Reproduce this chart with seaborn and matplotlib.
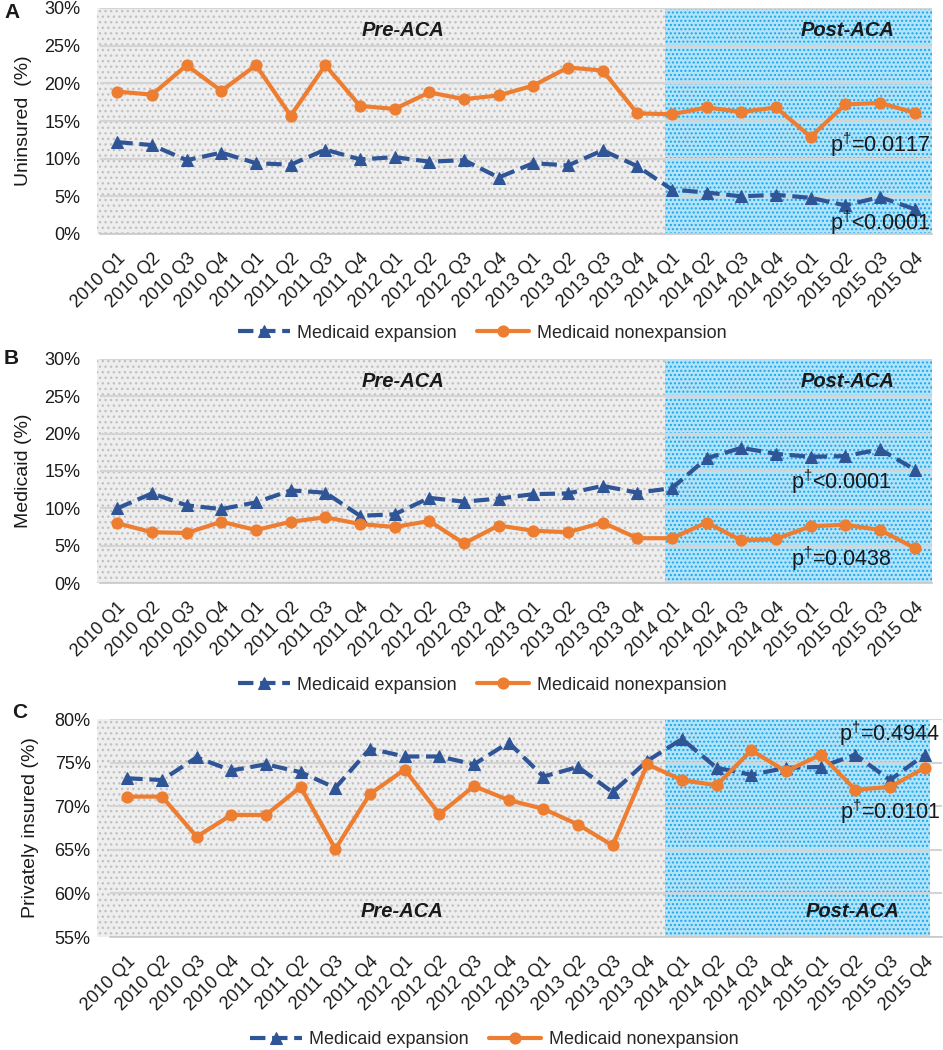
import numpy as np
import pandas as pd
import matplotlib
matplotlib.use("Agg")
import matplotlib.pyplot as plt
import matplotlib.transforms as mtrans
from matplotlib.ticker import FuncFormatter
import seaborn as sns

# ---------------- data ----------------
quarters = [f"{y} Q{q}" for y in range(2010, 2016) for q in range(1, 5)]

uninsured_expansion = [12.2, 11.8, 9.8, 10.8, 9.4, 9.2, 11.2, 9.9, 10.2, 9.6, 9.8, 7.5,
                       9.4, 9.1, 11.1, 9.0, 5.9, 5.5, 5.0, 5.2, 4.8, 3.8, 4.9, 3.3]
uninsured_nonexpansion = [18.9, 18.5, 22.4, 19.0, 22.4, 15.7, 22.4, 17.0, 16.6, 18.8, 17.9, 18.4,
                          19.7, 22.1, 21.7, 16.0, 15.9, 16.8, 16.2, 16.8, 12.9, 17.2, 17.4, 16.1]

medicaid_expansion = [10.0, 12.0, 10.4, 9.9, 10.8, 12.4, 12.1, 9.0, 9.2, 11.4, 10.9, 11.3,
                      11.9, 12.0, 13.0, 12.1, 12.7, 16.7, 18.1, 17.3, 16.9, 17.0, 17.9, 15.2]
medicaid_nonexpansion = [8.0, 6.8, 6.7, 8.2, 7.1, 8.2, 8.8, 7.9, 7.5, 8.3, 5.3, 7.7,
                         7.0, 6.8, 8.1, 6.0, 6.0, 8.1, 5.7, 5.9, 7.6, 7.8, 7.1, 4.7]

private_expansion = [73.2, 73.0, 75.6, 74.1, 74.8, 73.9, 72.1, 76.6, 75.7, 75.7, 74.8, 77.3,
                     73.4, 74.5, 71.6, 75.2, 77.7, 74.4, 73.6, 74.4, 74.5, 75.9, 73.0, 75.9]
private_nonexpansion = [71.1, 71.1, 66.5, 69.0, 69.0, 72.2, 65.1, 71.4, 74.2, 69.1, 72.3, 70.7,
                        69.7, 67.9, 65.5, 74.8, 73.0, 72.4, 76.4, 74.0, 75.9, 71.9, 72.2, 74.4]

series_labels = ["Medicaid expansion", "Medicaid nonexpansion"]
panel_letters = ["A", "B", "C"]
ylabels = ["Uninsured  (%)", "Medicaid (%)", "Privately insured (%)"]
yticks_list = [[0, 5, 10, 15, 20, 25, 30], [0, 5, 10, 15, 20, 25, 30], [55, 60, 65, 70, 75, 80]]
pvals = [("p$^{\\dagger}$=0.0117", "p$^{\\dagger}$<0.0001"),
         ("p$^{\\dagger}$<0.0001", "p$^{\\dagger}$=0.0438"),
         ("p$^{\\dagger}$=0.4944", "p$^{\\dagger}$=0.0101")]

# ---------------- style ----------------
sns.set_style("white")
plt.rcParams["font.family"] = ["Liberation Sans", "DejaVu Sans"]
plt.rcParams["mathtext.fontset"] = "custom"
plt.rcParams["mathtext.rm"] = "Liberation Sans"
plt.rcParams["hatch.linewidth"] = 1.0

BLUE = "#2f5597"
ORANGE = "#ed7d31"
GRID = "#d4d4d4"
TXT = "#1a1a1a"

W, H = 943, 1050
fig = plt.figure(figsize=(W / 100, H / 100), dpi=100)


def rect(left, right, top, bottom):
    return [left / W, 1 - bottom / H, (right - left) / W, (bottom - top) / H]


panels = [
    dict(r=rect(100, 932, 8, 234), exp=uninsured_expansion, non=uninsured_nonexpansion,
         pre=(-0.59, 15.8), post=(15.8, 23.5), lab_y=0.9, pre_x=0.364, post_x=0.899,
         p_x=0.998, p_y=(11.9, 1.5), leg_y=333, leg_x=482, letter=(4, 13), ylab_x=-0.082),
    dict(r=rect(100, 932, 359, 583), exp=medicaid_expansion, non=medicaid_nonexpansion,
         pre=(-0.59, 15.8), post=(15.8, 23.5), lab_y=0.9, pre_x=0.364, post_x=0.899,
         p_x=0.951, p_y=(13.5, 3.3), leg_y=685, leg_x=482, letter=(4, 359), ylab_x=-0.082),
    dict(r=rect(110, 942, 719, 937), exp=private_expansion, non=private_nonexpansion,
         pre=(-0.88, 15.51), post=(15.51, 23.15), lab_y=0.115, pre_x=0.351, post_x=0.893,
         p_x=0.998, p_y=(78.3, 69.4), leg_y=1040, leg_x=494, letter=(12, 713), ylab_x=-0.085),
]

for i, P in enumerate(panels):
    ax = fig.add_axes(P["r"])
    df = pd.DataFrame({"quarter": quarters * 2,
                       "value": P["exp"] + P["non"],
                       "group": [series_labels[0]] * 24 + [series_labels[1]] * 24})

    # shaded periods (dotted texture)
    ax.axvspan(P["pre"][0], P["pre"][1], facecolor="#eeeeee", edgecolor="#c2c2c2",
               hatch="...", linewidth=0, zorder=0.1, clip_on=False)
    ax.axvspan(P["post"][0], P["post"][1], facecolor="#b3e3f9", edgecolor="#18a8ee",
               hatch="....", linewidth=0, zorder=0.1, clip_on=False)

    sns.lineplot(data=df[df.group == series_labels[0]], x="quarter", y="value", ax=ax,
                 color=BLUE, linestyle="--", linewidth=3.0, marker="^", markersize=8.5,
                 markeredgecolor=BLUE, label=series_labels[0], sort=False, zorder=3)
    sns.lineplot(data=df[df.group == series_labels[1]], x="quarter", y="value", ax=ax,
                 color=ORANGE, linestyle="-", linewidth=3.0, marker="o", markersize=8,
                 markeredgecolor=ORANGE, label=series_labels[1], sort=False, zorder=4)

    yt = yticks_list[i]
    ax.set_ylim(yt[0], yt[-1])
    ax.set_yticks(yt)
    ax.yaxis.set_major_formatter(FuncFormatter(lambda v, _: f"{v:.0f}%"))
    ax.set_xlim(-0.5, 23.5)
    ax.set_xticks(np.arange(24))
    ax.set_xticklabels(quarters, rotation=45, ha="right", va="center",
                       rotation_mode="anchor", fontsize=13, color=TXT)
    ax.set_xticks(np.arange(-0.5, 24, 1), minor=True)
    ax.tick_params(axis="x", which="major", length=0, pad=16)
    ax.tick_params(axis="x", which="minor", length=5, width=1.2, color="#c8c8c8")
    ax.tick_params(axis="y", length=0, pad=14, labelsize=13, labelcolor=TXT)
    offset = mtrans.ScaledTranslation(6 / 100, 0, fig.dpi_scale_trans)
    for lab in ax.get_xticklabels():
        lab.set_transform(lab.get_transform() + offset)

    ax.set_axisbelow(True)
    ax.grid(axis="y", color=GRID, linewidth=1.5, zorder=0.5)
    ax.grid(axis="x", visible=False)
    for s in ["left", "right", "top"]:
        ax.spines[s].set_visible(False)
    ax.spines["bottom"].set_color("#c8c8c8")
    ax.spines["bottom"].set_linewidth(1.2)

    ax.set_xlabel("")
    ax.set_ylabel(ylabels[i], fontsize=14, color=TXT)
    ax.yaxis.set_label_coords(P["ylab_x"], 0.5)

    ax.text(P["pre_x"], P["lab_y"], "Pre-ACA", transform=ax.transAxes, ha="center",
            va="center", fontsize=14.5, fontweight="bold", fontstyle="italic", color=TXT)
    ax.text(P["post_x"], P["lab_y"], "Post-ACA", transform=ax.transAxes, ha="center",
            va="center", fontsize=14.5, fontweight="bold", fontstyle="italic", color=TXT)

    trans = mtrans.blended_transform_factory(ax.transAxes, ax.transData)
    for txt, yv in zip(pvals[i], P["p_y"]):
        ax.text(P["p_x"], yv, txt, transform=trans, ha="right", va="center",
                fontsize=15.5, color=TXT)

    handles, labels = ax.get_legend_handles_labels()
    ax.get_legend().remove()
    fig.legend(handles, labels, loc="center", ncol=2, frameon=False,
               bbox_to_anchor=(P["leg_x"] / W, 1 - P["leg_y"] / H),
               fontsize=13, handlelength=2.9, handletextpad=0.4, columnspacing=1.1,
               borderpad=0, numpoints=1)

    fig.text(P["letter"][0] / W, 1 - P["letter"][1] / H, panel_letters[i], ha="left",
             va="center", fontsize=15, fontweight="bold", color=TXT)

fig.savefig("out.png", dpi=100)
